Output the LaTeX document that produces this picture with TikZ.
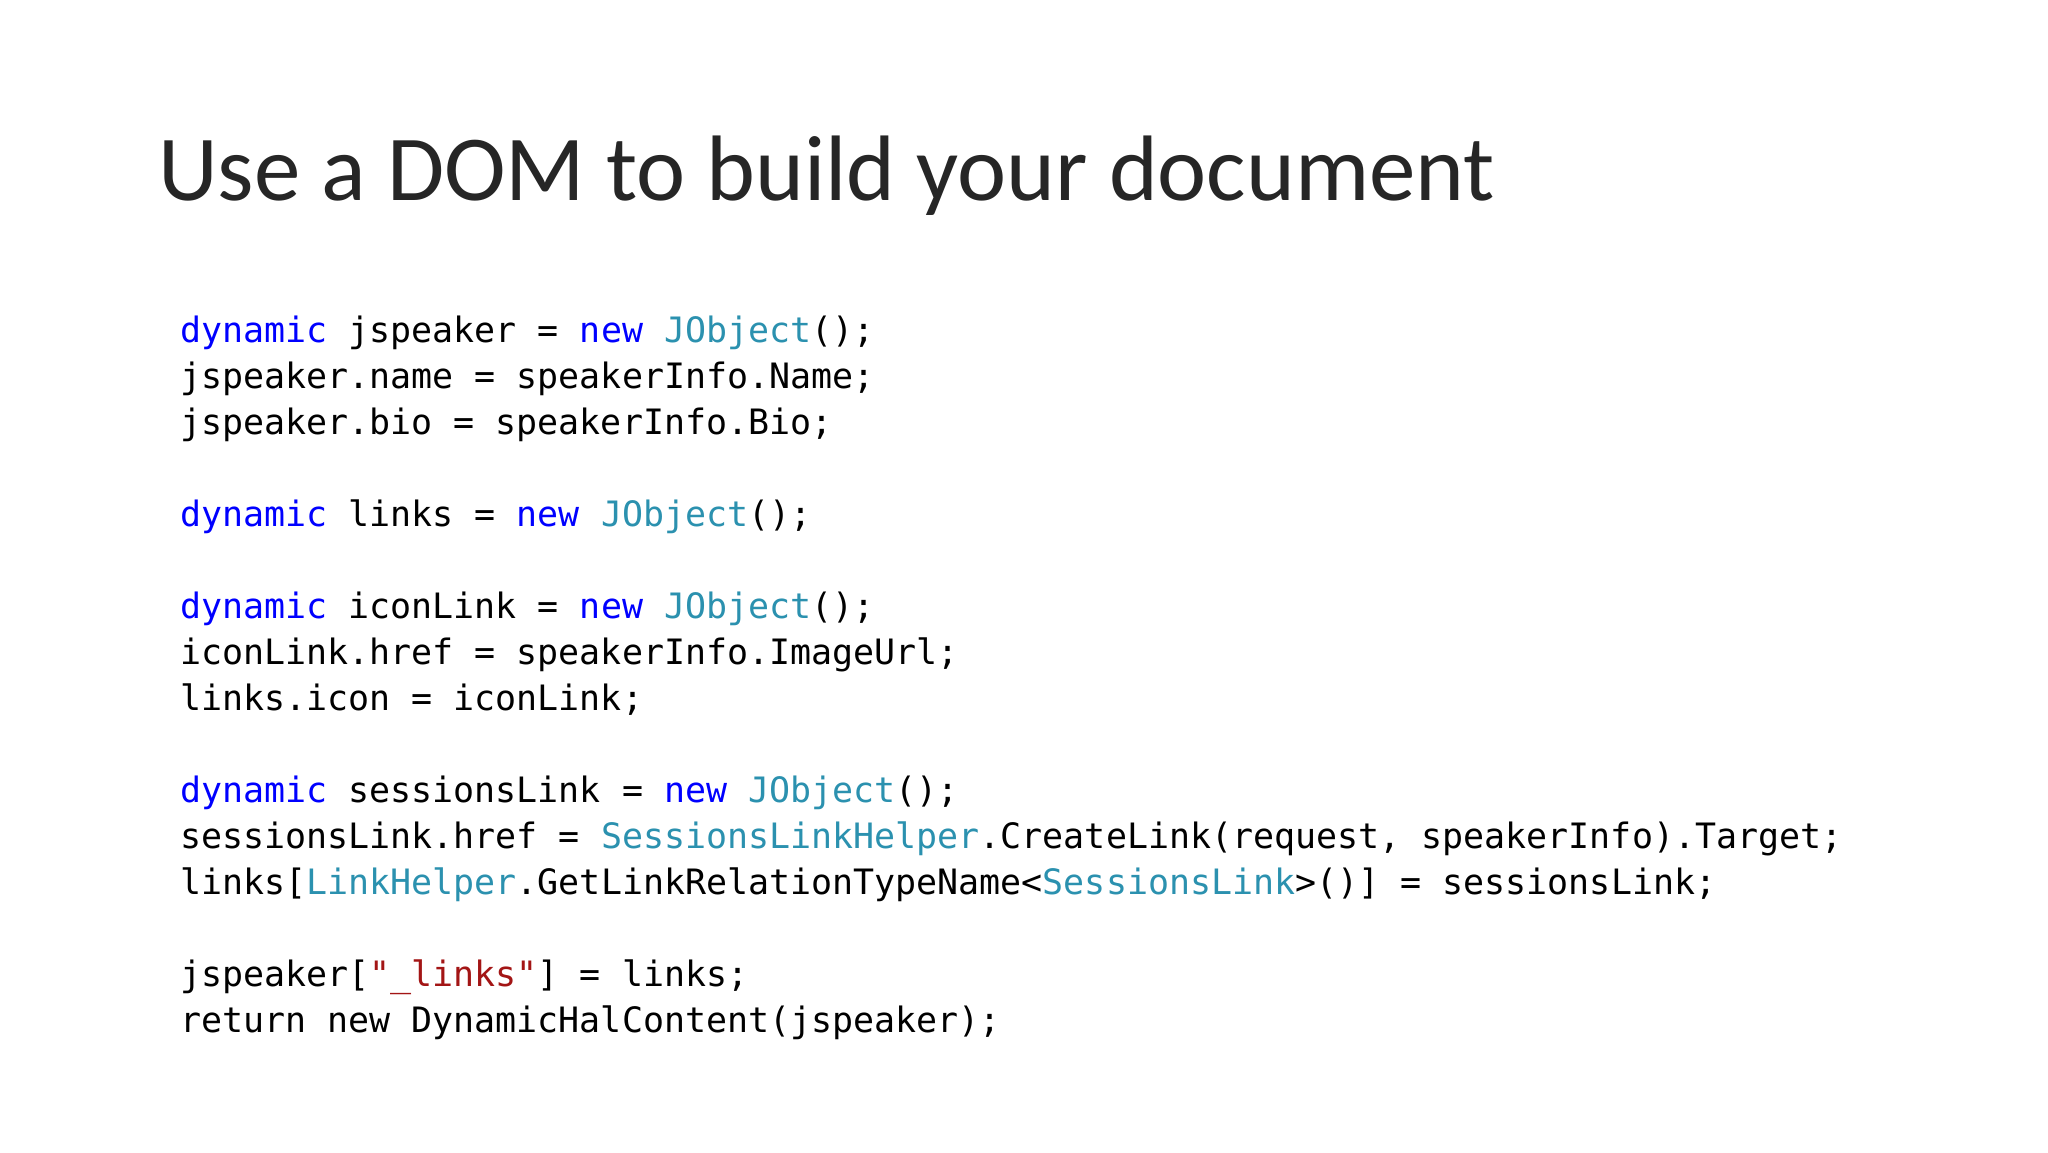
\documentclass[tikz,border=0pt]{standalone}
\usepackage{fontspec}
\setmainfont{Carlito}
\newfontfamily\codefont{DejaVu Sans Mono}
\definecolor{kwblue}{HTML}{0000FF}
\definecolor{tyteal}{HTML}{2B91AF}
\definecolor{strred}{HTML}{A31515}
\newcommand\kwd[1]{\textcolor{kwblue}{#1}}
\newcommand\tyt[1]{\textcolor{tyteal}{#1}}
\newcommand\strr[1]{\textcolor{strred}{#1}}
\begin{document}
\begin{tikzpicture}[x=1pt,y=-1pt,
  code/.style={anchor=base west,inner sep=0pt,font=\codefont\fontsize{34.95}{40}\selectfont,text=black},
  title/.style={anchor=base west,inner sep=0pt,font=\fontsize{93}{110}\selectfont,text=black!85}]
\useasboundingbox[fill=white] (0,0) rectangle (2048,1152);
\node[title] (t) at (158,200) {Use a DOM to build your document};
\node[code] (l0) at (180,342) {\kwd{dynamic} jspeaker = \kwd{new} \tyt{JObject}();};
\node[code] (l1) at (180,388) {jspeaker.name = speakerInfo.Name;};
\node[code] (l2) at (180,434) {jspeaker.bio = speakerInfo.Bio;};
\node[code] (l4) at (180,526) {\kwd{dynamic} links = \kwd{new} \tyt{JObject}();};
\node[code] (l6) at (180,618) {\kwd{dynamic} iconLink = \kwd{new} \tyt{JObject}();};
\node[code] (l7) at (180,664) {iconLink.href = speakerInfo.ImageUrl;};
\node[code] (l8) at (180,710) {links.icon = iconLink;};
\node[code] (l10) at (180,802) {\kwd{dynamic} sessionsLink = \kwd{new} \tyt{JObject}();};
\node[code] (l11) at (180,848) {sessionsLink.href = \tyt{SessionsLinkHelper}.CreateLink(request, speakerInfo).Target;};
\node[code] (l12) at (180,894) {links[\tyt{LinkHelper}.GetLinkRelationTypeName<\tyt{SessionsLink}>()] = sessionsLink;};
\node[code] (l14) at (180,986) {jspeaker[\strr{"\_links"}] = links;};
\node[code] (l15) at (180,1032) {return new DynamicHalContent(jspeaker);};
\end{tikzpicture}
\end{document}
